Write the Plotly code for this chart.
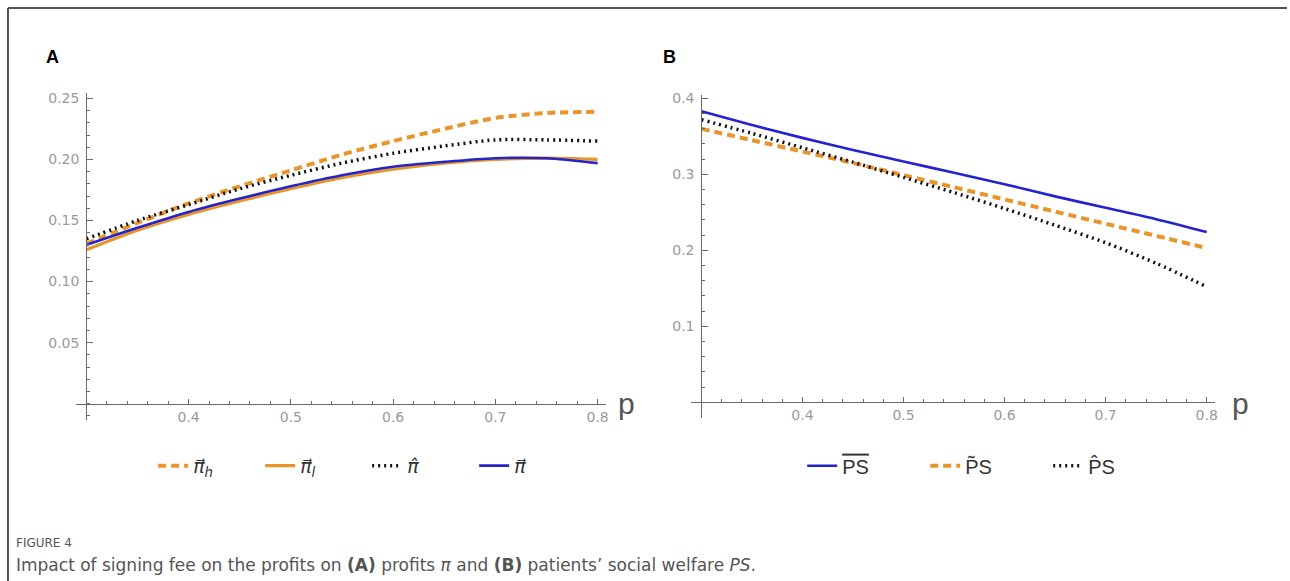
import plotly.graph_objects as go

# ---------------- data ----------------
p_vals = [0.30, 0.35, 0.40, 0.45, 0.50, 0.55, 0.60, 0.65, 0.70, 0.75, 0.80]

# Panel A: profits
pi_h = [0.131, 0.148, 0.164, 0.178, 0.191, 0.204, 0.215, 0.225, 0.234, 0.238, 0.239]
pi_l = [0.126, 0.142, 0.155, 0.166, 0.176, 0.185, 0.192, 0.197, 0.200, 0.201, 0.200]
pi_hat = [0.135, 0.150, 0.163, 0.176, 0.187, 0.197, 0.205, 0.211, 0.216, 0.216, 0.215]
pi_vec = [0.130, 0.144, 0.157, 0.168, 0.178, 0.187, 0.194, 0.198, 0.201, 0.201, 0.197]

# Panel B: patients' social welfare
ps_vec = [0.383, 0.365, 0.348, 0.332, 0.317, 0.302, 0.287, 0.271, 0.256, 0.241, 0.224]
ps_tilde = [0.360, 0.345, 0.330, 0.315, 0.299, 0.283, 0.267, 0.251, 0.235, 0.219, 0.203]
ps_hat = [0.372, 0.354, 0.335, 0.316, 0.296, 0.276, 0.255, 0.233, 0.210, 0.183, 0.152]

x_ticks = [0.4, 0.5, 0.6, 0.7, 0.8]
x_ticktext = ["0.4", "0.5", "0.6", "0.7", "0.8"]
yA_ticks = [0.05, 0.10, 0.15, 0.20, 0.25]
yA_ticktext = ["0.05", "0.10", "0.15", "0.20", "0.25"]
yB_ticks = [0.1, 0.2, 0.3, 0.4]
yB_ticktext = ["0.1", "0.2", "0.3", "0.4"]

# ---------------- styling ----------------
W, H = 1290, 581
ORANGE = "#E8952C"
BLUE = "#2424CC"
BLACK = "#111111"
AXC = "#6a6a6a"
TICKC = "#9a9a9a"

def px_x(v):
    return v / W

def px_y(v):
    return 1 - v / H

# panel A geometry (pixels)
xA_range = [0.29, 0.808]
yA_range = [-0.013, 0.254]
xA_dom = [px_x(76.3), px_x(607.2)]
yA_dom = [px_y(418.5), px_y(90.1)]
# panel B geometry
xB_range = [0.29, 0.808]
yB_range = [-0.021, 0.405]
xB_dom = [px_x(692.9), px_x(1217.6)]
yB_dom = [px_y(417.1), px_y(91.2)]

def pos_y0(dom, rng):
    return dom[0] + (0 - rng[0]) / (rng[1] - rng[0]) * (dom[1] - dom[0])

def pos_x03(dom, rng):
    return dom[0] + (0.3 - rng[0]) / (rng[1] - rng[0]) * (dom[1] - dom[0])

fig = go.Figure()

def add_line(x, y, name, color, width, dash, xa, ya, leg):
    fig.add_trace(go.Scatter(
        x=x, y=y, mode="lines", name=name,
        line=dict(color=color, width=width, dash=dash, shape="spline", smoothing=0.8),
        xaxis=xa, yaxis=ya, legend=leg, hoverinfo="skip"))

add_line(p_vals, pi_h, "<i>π\u20d7</i><sub><i>h</i></sub>", ORANGE, 4, "8px,5px", "x", "y", "legend")
add_line(p_vals, pi_l, "<i>π\u20d7</i><sub><i>l</i></sub>", ORANGE, 3.2, "solid", "x", "y", "legend")
add_line(p_vals, pi_hat, "<i>π\u0302</i>", BLACK, 3.5, "2px,4px", "x", "y", "legend")
add_line(p_vals, pi_vec, "<i>π\u20d7</i>", BLUE, 2.6, "solid", "x", "y", "legend")

add_line(p_vals, ps_vec, "<span style=\"text-decoration:overline\">PS</span>", BLUE, 2.6, "solid", "x2", "y2", "legend2")
add_line(p_vals, ps_tilde, "P\u0303S", ORANGE, 4, "8px,5px", "x2", "y2", "legend2")
add_line(p_vals, ps_hat, "P\u0302S", BLACK, 3.5, "2px,4px", "x2", "y2", "legend2")

def xaxis_cfg(dom, rng, ydom, yrng):
    return dict(domain=dom, range=rng, anchor="free", position=pos_y0(ydom, yrng),
                showline=True, linecolor=AXC, linewidth=1.2,
                ticks="inside", ticklen=5, tickwidth=1, tickcolor=AXC,
                tickmode="array", tickvals=x_ticks, ticktext=x_ticktext,
                tickfont=dict(family="DejaVu Sans", size=14, color=TICKC),
                showgrid=False, zeroline=False,
                minor=dict(ticks="inside", ticklen=3, tickwidth=1, tickcolor=AXC,
                           dtick=0.02, tick0=0, showgrid=False))

def yaxis_cfg(dom, rng, xdom, xrng, tv, tt, mdt):
    return dict(domain=dom, range=rng, anchor="free", position=pos_x03(xdom, xrng),
                showline=True, linecolor=AXC, linewidth=1.2,
                ticks="inside", ticklen=6, tickwidth=1, tickcolor=AXC,
                tickmode="array", tickvals=tv, ticktext=tt, ticklabelstandoff=4,
                tickfont=dict(family="DejaVu Sans", size=14, color=TICKC),
                showgrid=False, zeroline=False,
                minor=dict(ticks="inside", ticklen=3, tickwidth=1, tickcolor=AXC,
                           dtick=mdt, tick0=0, showgrid=False))

fig.update_layout(
    width=W, height=H,
    margin=dict(l=0, r=0, t=0, b=0),
    paper_bgcolor="white", plot_bgcolor="white",
    xaxis=xaxis_cfg(xA_dom, xA_range, yA_dom, yA_range),
    yaxis=yaxis_cfg(yA_dom, yA_range, xA_dom, xA_range, yA_ticks, yA_ticktext, 0.01),
    xaxis2=xaxis_cfg(xB_dom, xB_range, yB_dom, yB_range),
    yaxis2=yaxis_cfg(yB_dom, yB_range, xB_dom, xB_range, yB_ticks, yB_ticktext, 0.02),
    legend=dict(orientation="h", x=px_x(368), y=px_y(465), xanchor="center", yanchor="middle",
                font=dict(family="DejaVu Sans", size=19, color="#333333"),
                entrywidth=62, bgcolor="rgba(0,0,0,0)"),
    legend2=dict(orientation="h", x=px_x(989), y=px_y(465), xanchor="center", yanchor="middle",
                 font=dict(family="Liberation Sans", size=20, color="#333333"),
                 entrywidth=78, bgcolor="rgba(0,0,0,0)"),
    showlegend=True,
)

annotations = [
    dict(text="<b>A</b>", x=px_x(53), y=px_y(53), font=dict(family="Liberation Sans", size=18, color="black")),
    dict(text="<b>B</b>", x=px_x(671), y=px_y(53), font=dict(family="Liberation Sans", size=18, color="black")),
    dict(text="p", x=px_x(628), y=px_y(402), font=dict(family="Liberation Sans", size=30, color="#555555")),
    dict(text="p", x=px_x(1243), y=px_y(402), font=dict(family="Liberation Sans", size=30, color="#555555")),
]
for a in annotations:
    a.update(xref="paper", yref="paper", showarrow=False, xanchor="center", yanchor="middle")
annotations.append(dict(text="FIGURE 4", x=px_x(14), y=px_y(543), xref="paper", yref="paper",
                        showarrow=False, xanchor="left", yanchor="middle",
                        font=dict(family="DejaVu Sans", size=12, color="#555555")))
annotations.append(dict(text="Impact of signing fee on the profits on <b>(A)</b> profits <i>π</i> and "
                             "<b>(B)</b> patients\u2019 social welfare <i>PS</i>.",
                        x=px_x(14), y=px_y(565), xref="paper", yref="paper",
                        showarrow=False, xanchor="left", yanchor="middle",
                        font=dict(family="DejaVu Sans", size=17, color="#555555")))
fig.update_layout(annotations=annotations)

fig.update_layout(shapes=[
    dict(type="line", xref="paper", yref="paper", x0=px_x(8), x1=1, y0=px_y(4), y1=px_y(4),
         line=dict(color="#555555", width=2)),
    dict(type="line", xref="paper", yref="paper", x0=px_x(8), x1=px_x(8), y0=0, y1=px_y(4),
         line=dict(color="#555555", width=2)),
])

fig.write_html("out.html", config={"displayModeBar": False},
               post_script="document.body.style.margin='0';document.body.style.overflow='hidden';")
